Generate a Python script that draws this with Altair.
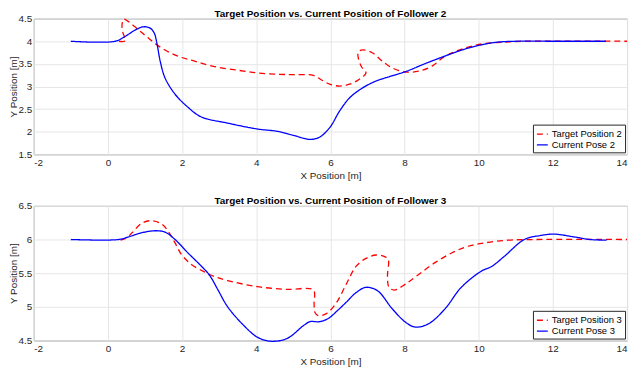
import altair as alt
import pandas as pd

# ---- Follower 2 ----
cur2_x = [-1.0, 0.2, 0.47, 0.74, 0.96, 1.14, 1.25, 1.32, 1.41, 1.54, 1.81, 2.16, 2.51, 3.23, 4.03, 4.56, 5.0, 5.45, 5.71, 5.99, 6.25, 6.52, 6.87, 7.23, 7.6, 8.03, 8.6, 9.18, 9.6, 10.07, 10.5, 11.0, 12.0, 13.43]
cur2_y = [4.0, 4.0, 4.11, 4.25, 4.32, 4.29, 4.18, 3.96, 3.56, 3.19, 2.83, 2.54, 2.33, 2.19, 2.06, 2.01, 1.92, 1.83, 1.88, 2.10, 2.46, 2.75, 2.97, 3.12, 3.22, 3.33, 3.52, 3.70, 3.82, 3.92, 3.98, 4.0, 4.0, 4.0]
tgt2_x = [0.30, 0.47, 0.40, 0.38, 0.43, 0.56, 0.83, 1.09, 1.45, 1.89, 2.34, 2.87, 3.5, 4.03, 4.6, 5.0, 5.54, 5.75, 5.98, 6.25, 6.52, 6.78, 6.96, 6.85, 6.76, 6.75, 6.87, 7.14, 7.40, 7.67, 8.03, 8.38, 8.74, 9.09, 9.63, 10.16, 10.69, 11.2, 14.0]
tgt2_y = [4.0, 4.01, 4.2, 4.36, 4.49, 4.43, 4.25, 4.07, 3.85, 3.67, 3.56, 3.44, 3.36, 3.30, 3.27, 3.26, 3.245, 3.15, 3.05, 3.01, 3.05, 3.16, 3.30, 3.42, 3.6, 3.76, 3.81, 3.74, 3.56, 3.41, 3.32, 3.34, 3.45, 3.67, 3.85, 3.95, 3.98, 4.0, 4.0]

# ---- Follower 3 ----
cur3_x = [-1.0, 0.29, 0.56, 0.91, 1.27, 1.54, 1.81, 2.16, 2.51, 2.74, 2.96, 3.23, 3.67, 4.03, 4.38, 4.83, 5.27, 5.45, 5.71, 5.95, 6.2, 6.43, 6.69, 6.96, 7.27, 7.67, 8.03, 8.29, 8.65, 9.09, 9.53, 10.07, 10.35, 10.69, 11.23, 11.67, 12.03, 12.56, 13.0, 13.45]
cur3_y = [6.0, 6.0, 6.04, 6.10, 6.13, 6.11, 6.0, 5.80, 5.61, 5.47, 5.26, 5.0, 4.72, 4.55, 4.49, 4.53, 4.72, 4.78, 4.78, 4.83, 4.95, 5.07, 5.21, 5.29, 5.24, 4.97, 4.77, 4.70, 4.75, 4.97, 5.29, 5.53, 5.60, 5.75, 6.0, 6.06, 6.08, 6.04, 6.0, 5.99]
tgt3_x = [0.34, 0.5, 0.65, 0.91, 1.18, 1.45, 1.63, 1.81, 1.98, 2.25, 2.60, 2.87, 3.23, 4.03, 4.83, 5.54, 5.56, 5.58, 5.67, 5.89, 6.16, 6.43, 6.69, 6.96, 7.23, 7.45, 7.56, 7.54, 7.58, 7.72, 8.03, 8.38, 8.83, 9.27, 9.71, 10.16, 10.79, 11.5, 14.0]
tgt3_y = [5.99, 6.02, 6.10, 6.24, 6.28, 6.23, 6.12, 5.95, 5.78, 5.63, 5.52, 5.45, 5.39, 5.30, 5.26, 5.25, 5.05, 4.92, 4.87, 4.90, 5.06, 5.34, 5.60, 5.72, 5.77, 5.75, 5.70, 5.46, 5.29, 5.25, 5.34, 5.48, 5.66, 5.80, 5.90, 5.95, 5.99, 6.0, 6.0]

x_ticks = [-2, 0, 2, 4, 6, 8, 10, 12, 14]
y2_ticks = [1.5, 2, 2.5, 3, 3.5, 4, 4.5]
y3_ticks = [4.5, 5, 5.5, 6, 6.5]

FONT = "Liberation Sans"


def frame(xs, ys, name):
    return pd.DataFrame({"x": xs, "y": ys, "series": name, "i": list(range(len(xs)))})


def panel(tx, ty, cx, cy, names, yticks, title, h):
    df = pd.concat([frame(tx, ty, names[0]), frame(cx, cy, names[1])], ignore_index=True)
    leg = alt.Legend(
        title=None, orient="bottom-right", offset=2, symbolType="stroke",
        symbolSize=121, symbolStrokeWidth=1.3, labelFontSize=9.5, labelFont=FONT,
        labelColor="#000000", padding=3, rowPadding=0, labelOffset=3,
        strokeColor="#262626", fillColor="white", cornerRadius=0,
    )
    return alt.Chart(df).mark_line(strokeWidth=1.3, interpolate="catmull-rom").encode(
        x=alt.X("x:Q", scale=alt.Scale(domain=[-2, 14], nice=False, zero=False),
                axis=alt.Axis(values=x_ticks, title="X Position [m]", labelExpr="'' + datum.value",
                              titlePadding=3, labelPadding=3)),
        y=alt.Y("y:Q", scale=alt.Scale(domain=[yticks[0], yticks[-1]], nice=False, zero=False),
                axis=alt.Axis(values=yticks, title="Y Position [m]", labelExpr="'' + datum.value",
                              titlePadding=0, labelPadding=2)),
        color=alt.Color("series:N", scale=alt.Scale(domain=names, range=["#ff0000", "#0000ff"]), legend=leg),
        strokeDash=alt.StrokeDash("series:N", scale=alt.Scale(domain=names, range=[[6, 4], [1, 0]]), legend=leg),
        detail="series:N",
        order="i:Q",
    ).properties(
        width=599, height=h,
        title=alt.TitleParams(title, fontSize=10, font=FONT, fontWeight="bold", color="#000000", offset=-5),
    )


top = panel(tgt2_x, tgt2_y, cur2_x, cur2_y, ["Target Position 2", "Current Pose 2"], y2_ticks,
            "Target Position vs. Current Position of Follower 2", 137)
bottom = panel(tgt3_x, tgt3_y, cur3_x, cur3_y, ["Target Position 3", "Current Pose 3"], y3_ticks,
               "Target Position vs. Current Position of Follower 3", 136)

chart = alt.vconcat(top, bottom, spacing=14).resolve_scale(
    color="independent", strokeDash="independent"
).resolve_legend(
    color="independent", strokeDash="independent"
).properties(
    padding={"left": -1, "top": -2, "right": 0, "bottom": 0}
).configure_view(
    stroke="#8a8a8a", strokeWidth=1
).configure_axis(
    labelFont=FONT, titleFont=FONT, labelFontSize=10, titleFontSize=10,
    titleFontWeight="normal", labelColor="#262626", titleColor="#262626",
    domain=False, ticks=False, grid=True, gridColor="#e6e6e6", gridWidth=1,
)

chart.save("out.html", embed_options={"renderer": "svg", "actions": False})
